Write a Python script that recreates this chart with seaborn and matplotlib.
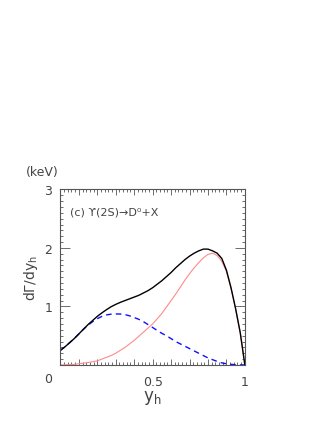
import numpy as np
import pandas as pd
import seaborn as sns
import matplotlib
matplotlib.use("Agg")
import matplotlib.pyplot as plt
from matplotlib.ticker import MultipleLocator, FixedLocator, FixedFormatter

# values (y_h grid and dGamma/dy_h in keV)
y_h = [0.0, 0.025, 0.05, 0.075, 0.1, 0.125, 0.15, 0.175, 0.2, 0.225,
       0.25, 0.275, 0.3, 0.325, 0.35, 0.375, 0.4, 0.425, 0.45, 0.475,
       0.5, 0.525, 0.55, 0.575, 0.6, 0.625, 0.65, 0.675, 0.7, 0.725,
       0.75, 0.775, 0.8, 0.825, 0.85, 0.875, 0.9, 0.925, 0.95, 0.975, 1.0]
total = [0.25, 0.31, 0.38, 0.45, 0.53, 0.61, 0.69, 0.76, 0.83, 0.89,
         0.945, 0.995, 1.035, 1.07, 1.1, 1.13, 1.16, 1.19, 1.23, 1.27,
         1.32, 1.38, 1.44, 1.51, 1.58, 1.66, 1.73, 1.8, 1.86, 1.91,
         1.95, 1.98, 1.98, 1.95, 1.91, 1.82, 1.62, 1.32, 0.96, 0.55, 0.0]
octet = [0.0, 0.002, 0.005, 0.01, 0.02, 0.03, 0.04, 0.055, 0.07, 0.1,
         0.13, 0.16, 0.2, 0.25, 0.3, 0.36, 0.42, 0.49, 0.56, 0.63,
         0.7, 0.79, 0.88, 0.99, 1.1, 1.21, 1.33, 1.45, 1.56, 1.66,
         1.75, 1.83, 1.89, 1.91, 1.87, 1.77, 1.6, 1.31, 0.95, 0.55, 0.0]
singlet = [0.25, 0.31, 0.38, 0.45, 0.53, 0.61, 0.68, 0.74, 0.79, 0.83,
           0.855, 0.868, 0.872, 0.87, 0.86, 0.84, 0.81, 0.78, 0.74, 0.69,
           0.64, 0.59, 0.54, 0.5, 0.45, 0.4, 0.36, 0.32, 0.28, 0.24,
           0.2, 0.16, 0.12, 0.09, 0.06, 0.035, 0.02, 0.01, 0.004, 0.001, 0.0]

df = pd.DataFrame({"y_h": y_h, "total": total, "octet": octet, "singlet": singlet})

sns.set_style("ticks")
plt.rcParams["font.family"] = ["DejaVu Sans"]
txt = "#444444"

fig = plt.figure(figsize=(3.3, 4.27), dpi=100)
ax = fig.add_axes([0.183, 0.143, 0.559, 0.411])

sns.lineplot(data=df, x="y_h", y="octet", ax=ax, color="#ff8a8a", lw=0.8)
sns.lineplot(data=df, x="y_h", y="singlet", ax=ax, color="#1010ff", lw=1.0,
             linestyle=(0, (4, 3)))
sns.lineplot(data=df, x="y_h", y="total", ax=ax, color="black", lw=1.0)

ax.set_xlim(0, 1)
ax.set_ylim(0, 3)

# x ticks: 0.1 major, 0.02 minor, labels only at 0.5 and 1
xlabs = ["" for _ in range(11)]
xlabs[5] = "0.5"
xlabs[10] = "1"
ax.xaxis.set_major_locator(FixedLocator([i / 10 for i in range(11)]))
ax.xaxis.set_major_formatter(FixedFormatter(xlabs))
ax.xaxis.set_minor_locator(MultipleLocator(0.02))

ax.yaxis.set_major_locator(FixedLocator([0, 1, 2, 3]))
ax.yaxis.set_major_formatter(FixedFormatter(["", "1", "2", "3"]))
ax.yaxis.set_minor_locator(MultipleLocator(0.1))

ax.tick_params(which="both", direction="in", top=True, right=True,
               colors="#555555", labelcolor=txt, labelsize=9, width=0.6)
ax.tick_params(axis="x", which="major", length=4, pad=7)
ax.tick_params(axis="x", which="minor", length=2)
ax.tick_params(axis="y", which="major", length=7, pad=6)
ax.tick_params(axis="y", which="minor", length=2.5)
for s in ax.spines.values():
    s.set_color("#555555")
    s.set_linewidth(0.8)

ax.set_xlabel("y$_\\mathregular{h}$", fontsize=12, color=txt, labelpad=0)
ax.set_ylabel("d\u0393/dy$_\\mathregular{h}$", fontsize=10, color=txt, labelpad=3)

fig.text(47.7 / 330, 1 - 380 / 427, "0", fontsize=9, color=txt, ha="center", va="center")
fig.text(42 / 330, 1 - 173 / 427, "(keV)", fontsize=9, color=txt, ha="center", va="center")
ax.text(0.05, 2.62, "(c) \u03d2(2S)\u2192D\u2070+X", fontsize=8, color=txt, va="center")

fig.savefig("out.png", dpi=100)
